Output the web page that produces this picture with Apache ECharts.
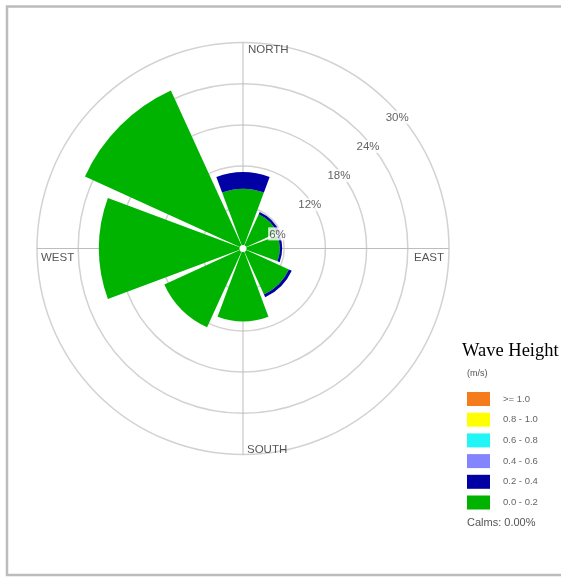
<!DOCTYPE html>
<html>
<head>
<meta charset="utf-8">
<script src="https://cdn.jsdelivr.net/npm/echarts@6/dist/echarts.min.js"></script>
<style>
  html, body { margin: 0; padding: 0; background: #fff; }
  #rose { width: 561px; height: 577px; }
</style>
</head>
<body>
<div id="rose"></div>
<script>
// Wave rose: frequency (%) of wave height classes by direction sector
const directions = ['N', 'NE', 'E', 'SE', 'S', 'SW', 'W', 'NW'];
const heightClasses = ['0.0 - 0.2', '0.2 - 0.4', '0.4 - 0.6', '0.6 - 0.8', '0.8 - 1.0', '>= 1.0'];
const freq_00_02 = [8.7, 5.5, 5.35, 7.35, 10.6, 12.6, 21.0, 25.3];
const freq_02_04 = [2.4, 0.35, 0.35, 0.45, 0, 0, 0, 0];
const freq_04_06 = [0, 0, 0, 0, 0, 0, 0, 0];
const freq_06_08 = [0, 0, 0, 0, 0, 0, 0, 0];
const freq_08_10 = [0, 0, 0, 0, 0, 0, 0, 0];
const freq_10_up = [0, 0, 0, 0, 0, 0, 0, 0];
const ringTicks = [6, 12, 18, 24, 30];
const compassNames = ['NORTH', 'EAST', 'SOUTH', 'WEST'];
const compassAngles = [0, 90, 180, 270];
const legendTitle = 'Wave Height';
const legendUnit = '(m/s)';
const calmsText = 'Calms: 0.00%';

const classColors = ['#00b300', '#0000a5', '#8484ff', '#22f5f5', '#ffff00', '#f47c1c'];
const classData = [freq_00_02, freq_02_04, freq_04_06, freq_06_08, freq_08_10, freq_10_up];

const CENTER = [243, 248.5];
const RADIUS = 206;
const RMAX = 30;

// where each compass word sits relative to its point on the outer ring
const compassLabelLayout = {
  NORTH: { align: 'left', verticalAlign: 'top', offset: [5, 1] },
  EAST: { align: 'right', verticalAlign: 'top', offset: [-5, 3] },
  SOUTH: { align: 'left', verticalAlign: 'bottom', offset: [4, 1] },
  WEST: { align: 'left', verticalAlign: 'top', offset: [4, 3] }
};

const chart = echarts.init(document.getElementById('rose'), null, { renderer: 'canvas' });

const barSeries = heightClasses.map((name, i) => ({
  name: name,
  type: 'bar',
  coordinateSystem: 'polar',
  polarIndex: 0,
  stack: 'rose',
  barCategoryGap: '9%',
  data: classData[i],
  itemStyle: { color: classColors[i] },
  silent: true,
  z: 3
}));

const option = {
  animation: false,
  backgroundColor: '#ffffff',
  polar: [
    { center: CENTER, radius: RADIUS },
    { center: CENTER, radius: RADIUS }
  ],
  angleAxis: [
    {
      polarIndex: 0,
      type: 'category',
      data: directions,
      startAngle: 90 + 22.5,
      clockwise: true,
      axisLine: { show: false },
      axisTick: { show: false },
      axisLabel: { show: false },
      splitLine: { show: false }
    },
    {
      polarIndex: 1,
      type: 'value',
      min: 0,
      max: 360,
      interval: 90,
      startAngle: 90,
      clockwise: true,
      axisLine: { show: false },
      axisTick: { show: false },
      axisLabel: { show: false },
      splitLine: { show: true, lineStyle: { color: '#bdbdbd', width: 1 } }
    }
  ],
  radiusAxis: [
    {
      polarIndex: 0,
      type: 'value',
      min: 0,
      max: RMAX,
      axisLine: { show: false },
      axisTick: { show: false },
      axisLabel: { show: false },
      splitLine: { show: false }
    },
    {
      polarIndex: 1,
      type: 'value',
      min: 0,
      max: RMAX,
      interval: 6,
      axisLine: { show: false },
      axisTick: { show: false },
      axisLabel: { show: false },
      splitLine: { show: true, lineStyle: { color: '#d2d2d2', width: 1.5 } }
    }
  ],
  legend: {
    orient: 'vertical',
    left: 467,
    top: 392,
    padding: 0,
    itemWidth: 23,
    itemHeight: 14,
    itemGap: 6.7,
    icon: 'rect',
    selectedMode: false,
    data: heightClasses.slice().reverse(),
    textStyle: {
      fontFamily: 'Liberation Sans',
      fontSize: 9.5,
      color: '#666',
      padding: [0, 0, 0, 8]
    }
  },
  series: barSeries.concat([
    {
      name: 'rings',
      type: 'scatter',
      coordinateSystem: 'polar',
      polarIndex: 1,
      symbolSize: 1,
      itemStyle: { color: 'rgba(0,0,0,0)' },
      silent: true,
      z: 6,
      data: ringTicks.map(v => [v, 45]),
      label: {
        show: true,
        position: 'inside',
        align: 'left',
        verticalAlign: 'top',
        offset: [-4, 8],
        formatter: p => p.value[0] + '%',
        fontFamily: 'Liberation Sans',
        fontSize: 11.5,
        color: '#3a3a3a',
        backgroundColor: '#ffffff',
        padding: [1, 1, 0, 1]
      }
    },
    {
      name: 'compass',
      type: 'scatter',
      coordinateSystem: 'polar',
      polarIndex: 1,
      symbolSize: 1,
      itemStyle: { color: 'rgba(0,0,0,0)' },
      silent: true,
      z: 6,
      data: compassNames.map((n, i) => ({
        name: n,
        value: [RMAX, compassAngles[i]],
        label: Object.assign({}, compassLabelLayout[n])
      })),
      label: {
        show: true,
        position: 'inside',
        formatter: p => p.name,
        fontFamily: 'Liberation Sans',
        fontSize: 11.5,
        color: '#2a2a2a'
      }
    }
  ]),
  graphic: [
    {
      type: 'rect',
      shape: { x: 7, y: 6.5, width: 620, height: 568.5 },
      style: { fill: null, stroke: '#bcbcbc', lineWidth: 2.5 },
      silent: true,
      z: 0
    },
    {
      type: 'circle',
      shape: { cx: CENTER[0], cy: CENTER[1], r: 3.5 },
      style: { fill: '#ffffff' },
      silent: true,
      z: 10
    },
    {
      type: 'text',
      left: 462,
      top: 342,
      style: { text: legendTitle, fontFamily: 'Liberation Serif', fontSize: 18.5, fill: '#000' },
      silent: true
    },
    {
      type: 'text',
      left: 467,
      top: 369,
      style: { text: legendUnit, fontFamily: 'Liberation Sans', fontSize: 9, fill: '#555' },
      silent: true
    },
    {
      type: 'text',
      left: 467,
      top: 517,
      style: { text: calmsText, fontFamily: 'Liberation Sans', fontSize: 11, fill: '#555' },
      silent: true
    }
  ]
};

chart.setOption(option);
</script>
</body>
</html>
